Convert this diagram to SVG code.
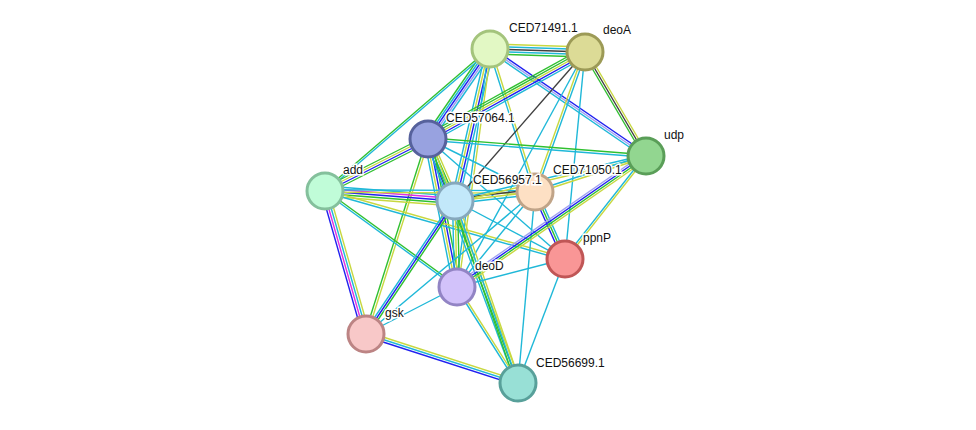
<svg xmlns="http://www.w3.org/2000/svg" width="976" height="430" viewBox="0 0 976 430">
<style>
line{stroke-width:1.4;fill:none}
.c{stroke:#1fb8d8}.y{stroke:#c8d840}.g{stroke:#30c030}.b{stroke:#2020f0}.k{stroke:#404040}.l{stroke:#a0a0f0}.m{stroke:#e030e0}
.n circle{stroke-width:3}
text{font-family:"Liberation Sans",Arial,sans-serif;font-size:12px;fill:#111;stroke:#fff;stroke-width:3;paint-order:stroke}
</style>
<rect width="976" height="430" fill="#fff"/>
<g id="edges">
<line class="y" x1="490" y1="49" x2="585" y2="52" transform="translate(0,-5)"/><line class="c" x1="490" y1="49" x2="585" y2="52" transform="translate(0,-2.5)"/><line class="k" x1="490" y1="49" x2="585" y2="52"/><line class="c" x1="490" y1="49" x2="585" y2="52" transform="translate(0,2.5)"/><line class="g" x1="490" y1="49" x2="585" y2="52" transform="translate(0,5)"/>
<line class="g" x1="490" y1="49" x2="428" y2="139" transform="translate(-5,0)"/><line class="c" x1="490" y1="49" x2="428" y2="139" transform="translate(-2.5,0)"/><line class="b" x1="490" y1="49" x2="428" y2="139"/><line class="l" x1="490" y1="49" x2="428" y2="139" transform="translate(2.5,0)"/><line class="c" x1="490" y1="49" x2="428" y2="139" transform="translate(5,0)"/>
<line class="c" x1="490" y1="49" x2="455" y2="201" transform="translate(-3.75,0)"/><line class="y" x1="490" y1="49" x2="455" y2="201" transform="translate(-1.25,0)"/><line class="b" x1="490" y1="49" x2="455" y2="201" transform="translate(1.25,0)"/><line class="c" x1="490" y1="49" x2="455" y2="201" transform="translate(3.75,0)"/>
<line class="c" x1="490" y1="49" x2="535" y2="192" transform="translate(-1.25,0)"/><line class="y" x1="490" y1="49" x2="535" y2="192" transform="translate(1.25,0)"/>
<line class="b" x1="490" y1="49" x2="646" y2="156" transform="translate(0,-2.5)"/><line class="l" x1="490" y1="49" x2="646" y2="156"/><line class="c" x1="490" y1="49" x2="646" y2="156" transform="translate(0,2.5)"/>
<line class="g" x1="490" y1="49" x2="325" y2="191" transform="translate(0,-1.25)"/><line class="c" x1="490" y1="49" x2="325" y2="191" transform="translate(0,1.25)"/>
<line class="c" x1="490" y1="49" x2="457" y2="287" transform="translate(-1.25,0)"/><line class="y" x1="490" y1="49" x2="457" y2="287" transform="translate(1.25,0)"/>
<line class="g" x1="585" y1="52" x2="428" y2="139" transform="translate(0,-5)"/><line class="g" x1="585" y1="52" x2="428" y2="139" transform="translate(0,-2.5)"/><line class="y" x1="585" y1="52" x2="428" y2="139"/><line class="b" x1="585" y1="52" x2="428" y2="139" transform="translate(0,2.5)"/><line class="c" x1="585" y1="52" x2="428" y2="139" transform="translate(0,5)"/>
<line class="k" x1="585" y1="52" x2="455" y2="201"/>
<line class="g" x1="585" y1="52" x2="646" y2="156" transform="translate(-2.5,0)"/><line class="k" x1="585" y1="52" x2="646" y2="156"/><line class="y" x1="585" y1="52" x2="646" y2="156" transform="translate(2.5,0)"/>
<line class="y" x1="585" y1="52" x2="535" y2="192" transform="translate(-1.25,0)"/><line class="c" x1="585" y1="52" x2="535" y2="192" transform="translate(1.25,0)"/>
<line class="c" x1="585" y1="52" x2="457" y2="287"/>
<line class="c" x1="585" y1="52" x2="565" y2="259"/>
<line class="g" x1="428" y1="139" x2="325" y2="191" transform="translate(0,-3.75)"/><line class="y" x1="428" y1="139" x2="325" y2="191" transform="translate(0,-1.25)"/><line class="b" x1="428" y1="139" x2="325" y2="191" transform="translate(0,1.25)"/><line class="g" x1="428" y1="139" x2="325" y2="191" transform="translate(0,3.75)"/>
<line class="g" x1="428" y1="139" x2="646" y2="156" transform="translate(0,-1.25)"/><line class="c" x1="428" y1="139" x2="646" y2="156" transform="translate(0,1.25)"/>
<line class="b" x1="428" y1="139" x2="455" y2="201" transform="translate(-3.75,0)"/><line class="c" x1="428" y1="139" x2="455" y2="201" transform="translate(-1.25,0)"/><line class="g" x1="428" y1="139" x2="455" y2="201" transform="translate(1.25,0)"/><line class="y" x1="428" y1="139" x2="455" y2="201" transform="translate(3.75,0)"/>
<line class="c" x1="428" y1="139" x2="457" y2="287" transform="translate(-3.75,0)"/><line class="y" x1="428" y1="139" x2="457" y2="287" transform="translate(-1.25,0)"/><line class="b" x1="428" y1="139" x2="457" y2="287" transform="translate(1.25,0)"/><line class="g" x1="428" y1="139" x2="457" y2="287" transform="translate(3.75,0)"/>
<line class="g" x1="428" y1="139" x2="366" y2="334" transform="translate(-1.25,0)"/><line class="y" x1="428" y1="139" x2="366" y2="334" transform="translate(1.25,0)"/>
<line class="c" x1="428" y1="139" x2="535" y2="192"/>
<line class="c" x1="428" y1="139" x2="565" y2="259"/>
<line class="c" x1="428" y1="139" x2="518" y2="383" transform="translate(-2.5,0)"/><line class="g" x1="428" y1="139" x2="518" y2="383"/><line class="y" x1="428" y1="139" x2="518" y2="383" transform="translate(2.5,0)"/>
<line class="c" x1="325" y1="191" x2="455" y2="201" transform="translate(0,-5)"/><line class="m" x1="325" y1="191" x2="455" y2="201" transform="translate(0,-2.5)"/><line class="b" x1="325" y1="191" x2="455" y2="201"/><line class="g" x1="325" y1="191" x2="455" y2="201" transform="translate(0,2.5)"/><line class="y" x1="325" y1="191" x2="455" y2="201" transform="translate(0,5)"/>
<line class="b" x1="325" y1="191" x2="366" y2="334" transform="translate(-3.75,0)"/><line class="m" x1="325" y1="191" x2="366" y2="334" transform="translate(-1.25,0)"/><line class="c" x1="325" y1="191" x2="366" y2="334" transform="translate(1.25,0)"/><line class="y" x1="325" y1="191" x2="366" y2="334" transform="translate(3.75,0)"/>
<line class="g" x1="325" y1="191" x2="457" y2="287" transform="translate(0,-1.25)"/><line class="c" x1="325" y1="191" x2="457" y2="287" transform="translate(0,1.25)"/>
<line class="y" x1="325" y1="191" x2="565" y2="259" transform="translate(0,-1.25)"/><line class="c" x1="325" y1="191" x2="565" y2="259" transform="translate(0,1.25)"/>
<line class="c" x1="325" y1="191" x2="535" y2="192" transform="translate(0,-1.25)"/><line class="y" x1="325" y1="191" x2="535" y2="192" transform="translate(0,1.25)"/>
<line class="k" x1="455" y1="201" x2="535" y2="192" transform="translate(0,-2.5)"/><line class="y" x1="455" y1="201" x2="535" y2="192"/><line class="c" x1="455" y1="201" x2="535" y2="192" transform="translate(0,2.5)"/>
<line class="c" x1="455" y1="201" x2="646" y2="156" transform="translate(0,-1.25)"/><line class="y" x1="455" y1="201" x2="646" y2="156" transform="translate(0,1.25)"/>
<line class="c" x1="455" y1="201" x2="457" y2="287" transform="translate(-2.5,0)"/><line class="y" x1="455" y1="201" x2="457" y2="287"/><line class="g" x1="455" y1="201" x2="457" y2="287" transform="translate(2.5,0)"/>
<line class="c" x1="455" y1="201" x2="366" y2="334" transform="translate(-2.5,0)"/><line class="b" x1="455" y1="201" x2="366" y2="334"/><line class="g" x1="455" y1="201" x2="366" y2="334" transform="translate(2.5,0)"/>
<line class="c" x1="455" y1="201" x2="565" y2="259"/>
<line class="g" x1="455" y1="201" x2="518" y2="383" transform="translate(-2.5,0)"/><line class="c" x1="455" y1="201" x2="518" y2="383"/><line class="y" x1="455" y1="201" x2="518" y2="383" transform="translate(2.5,0)"/>
<line class="b" x1="535" y1="192" x2="565" y2="259" transform="translate(-2.5,0)"/><line class="g" x1="535" y1="192" x2="565" y2="259"/><line class="c" x1="535" y1="192" x2="565" y2="259" transform="translate(2.5,0)"/>
<line class="c" x1="535" y1="192" x2="646" y2="156" transform="translate(0,-1.25)"/><line class="y" x1="535" y1="192" x2="646" y2="156" transform="translate(0,1.25)"/>
<line class="c" x1="535" y1="192" x2="457" y2="287"/>
<line class="c" x1="535" y1="192" x2="366" y2="334"/>
<line class="c" x1="535" y1="192" x2="518" y2="383"/>
<line class="l" x1="646" y1="156" x2="457" y2="287" transform="translate(0,-3.75)"/><line class="b" x1="646" y1="156" x2="457" y2="287" transform="translate(0,-1.25)"/><line class="g" x1="646" y1="156" x2="457" y2="287" transform="translate(0,1.25)"/><line class="y" x1="646" y1="156" x2="457" y2="287" transform="translate(0,3.75)"/>
<line class="c" x1="646" y1="156" x2="565" y2="259" transform="translate(-1.25,0)"/><line class="y" x1="646" y1="156" x2="565" y2="259" transform="translate(1.25,0)"/>
<line class="c" x1="457" y1="287" x2="565" y2="259"/>
<line class="c" x1="457" y1="287" x2="366" y2="334"/>
<line class="c" x1="457" y1="287" x2="518" y2="383" transform="translate(-1.25,0)"/><line class="y" x1="457" y1="287" x2="518" y2="383" transform="translate(1.25,0)"/>
<line class="b" x1="366" y1="334" x2="518" y2="383" transform="translate(0,2.5)"/><line class="c" x1="366" y1="334" x2="518" y2="383"/><line class="y" x1="366" y1="334" x2="518" y2="383" transform="translate(0,-2.5)"/>
<line class="c" x1="565" y1="259" x2="518" y2="383"/>
</g>
<g class="n" id="n-CED71491.1"><circle cx="490" cy="49" r="18" fill="#e2f8c4" stroke="#a4c47c"/><text x="509" y="32">CED71491.1</text></g>
<g class="n" id="n-deoA"><circle cx="585" cy="52" r="18" fill="#dcdb96" stroke="#9c9a56"/><text x="603" y="34">deoA</text></g>
<g class="n" id="n-CED57064.1"><circle cx="428" cy="139" r="18" fill="#98a2e0" stroke="#56619c"/><text x="446" y="122">CED57064.1</text></g>
<g class="n" id="n-udp"><circle cx="646" cy="156" r="18" fill="#92d690" stroke="#5a9e58"/><text x="664" y="139">udp</text></g>
<g class="n" id="n-add"><circle cx="325" cy="191" r="18" fill="#c0fcd8" stroke="#84c09c"/><text x="343" y="174">add</text></g>
<g class="n" id="n-CED71050.1"><circle cx="535" cy="192" r="18" fill="#fde0c4" stroke="#c0a488"/><text x="553" y="174">CED71050.1</text></g>
<g class="n" id="n-CED56957.1"><circle cx="455" cy="201" r="18" fill="#c2e8fa" stroke="#86a8bc"/><text x="473" y="184">CED56957.1</text></g>
<g class="n" id="n-ppnP"><circle cx="565" cy="259" r="18" fill="#f99696" stroke="#c05656"/><text x="583" y="242">ppnP</text></g>
<g class="n" id="n-deoD"><circle cx="457" cy="287" r="18" fill="#d2c2fa" stroke="#9284c4"/><text x="475" y="270">deoD</text></g>
<g class="n" id="n-gsk"><circle cx="366" cy="334" r="18" fill="#f8c8c8" stroke="#bc8484"/><text x="385" y="317">gsk</text></g>
<g class="n" id="n-CED56699.1"><circle cx="518" cy="383" r="18" fill="#98e0d6" stroke="#58a09a"/><text x="536" y="367">CED56699.1</text></g>
</svg>
